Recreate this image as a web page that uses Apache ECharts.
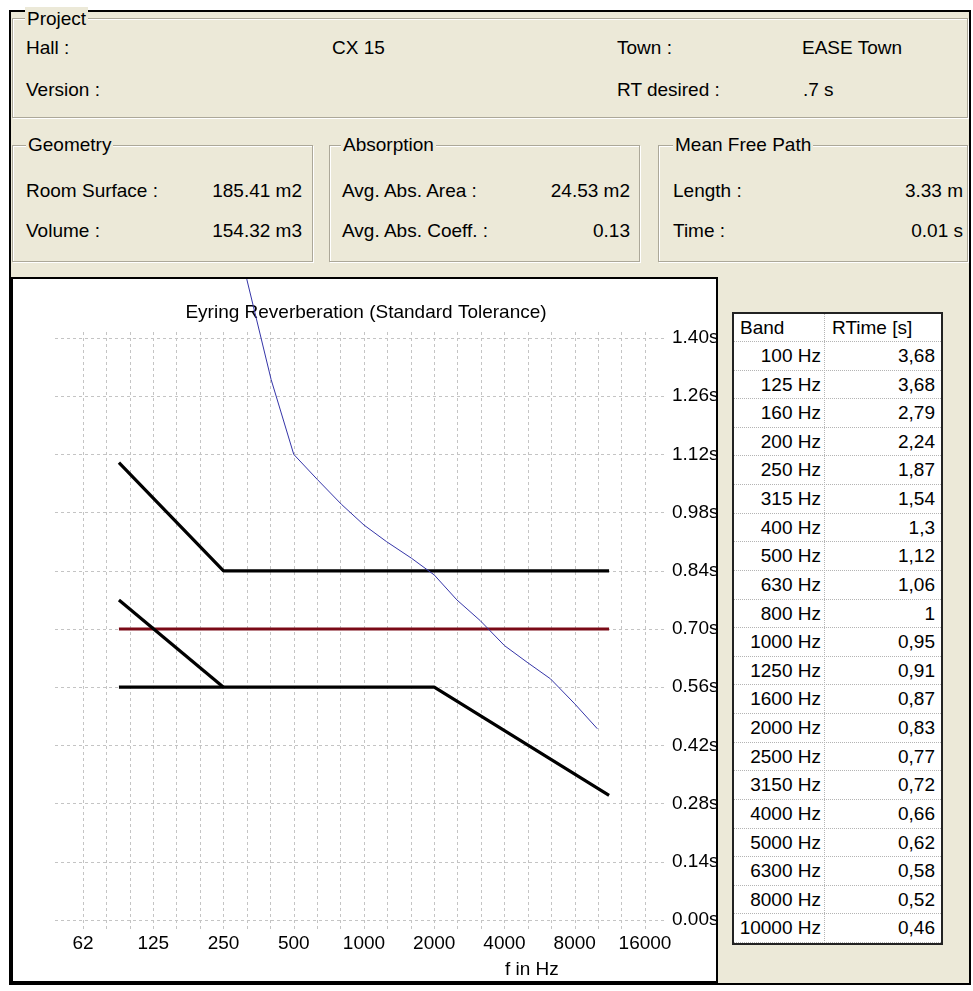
<!DOCTYPE html>
<html>
<head>
<meta charset="utf-8">
<script src="https://cdn.jsdelivr.net/npm/echarts@6/dist/echarts.min.js"></script>
<style>
html,body{margin:0;padding:0;background:#fff;width:973px;height:991px;overflow:hidden;}
#frame{position:absolute;left:9px;top:10px;width:962px;height:975px;background:#ece9d8;border:2px solid #000;box-sizing:border-box;}
.t{position:absolute;white-space:nowrap;line-height:24px;height:24px;color:#000;}
.box{position:absolute;border:1px solid #aca899;box-shadow:1px 1px 0 #fff, inset 1px 1px 0 #fff;box-sizing:border-box;}
.lg{position:absolute;white-space:nowrap;line-height:24px;height:24px;background:#ece9d8;padding:0 2px;color:#000;}
#panel{position:absolute;left:11px;top:277px;width:707px;height:706px;background:#fff;border:2px solid #000;box-sizing:border-box;}
#chart{position:absolute;left:0;top:0;width:703px;height:702px;}
#tbl{position:absolute;left:732px;top:312px;width:211px;height:633px;background:#fff;border:2px solid #222;box-sizing:border-box;overflow:hidden;}
.cell{position:absolute;white-space:nowrap;color:#000;}
.hl{position:absolute;left:0;width:207px;height:0;border-top:1px dotted #b4b4b4;}
.vl{position:absolute;top:0;width:0;height:629px;border-left:1px dotted #b4b4b4;}
</style>
</head>
<body>
<div id="frame"></div>
<div class="box" style="left:12px;top:18px;width:956px;height:100px;"></div>
<div class="box" style="left:12px;top:145px;width:301px;height:117px;"></div>
<div class="box" style="left:329px;top:145px;width:311px;height:117px;"></div>
<div class="box" style="left:658px;top:145px;width:310px;height:117px;"></div>
<div id="texts"></div>
<div id="panel"><div id="chart"></div></div>
<div id="tbl"></div>
<script>
// ---------- data ----------
const bands = [100,125,160,200,250,315,400,500,630,800,1000,1250,1600,2000,2500,3150,4000,5000,6300,8000,10000];
const rtValues = [3.68,3.68,2.79,2.24,1.87,1.54,1.3,1.12,1.06,1,0.95,0.91,0.87,0.83,0.77,0.72,0.66,0.62,0.58,0.52,0.46];
const desiredRT = 0.7;
const desiredFreq = [89.1, 11225];
const upperTolFreq = [89.1, 250, 11225];
const upperTolValues = [1.10, 0.84, 0.84];
const lowerTolFreq = [89.1, 2000, 11225];
const lowerTolValues = [0.56, 0.56, 0.30];
const lowerLeftFreq = [89.1, 250];
const lowerLeftValues = [0.77, 0.56];
const freqTickLabels = ['62','125','250','500','1000','2000','4000','8000','16000'];
const yTickMin = 0, yTickMax = 1.40, yTickStep = 0.14;

// ---------- font ----------
function hasFont(name){
  const c = document.createElement('canvas').getContext('2d');
  c.font = '40px monospace';
  const w1 = c.measureText('abcdefghijklmWQ').width;
  c.font = '40px "' + name + '", monospace';
  const w2 = c.measureText('abcdefghijklmWQ').width;
  return Math.abs(w1 - w2) > 0.5;
}
const narrow = hasFont('Liberation Sans Narrow');
const FF = narrow ? "'Liberation Sans Narrow', 'Liberation Sans', Arial, sans-serif" : "'Liberation Sans', Arial, sans-serif";
const FS = narrow ? 23 : 19;
document.body.style.fontFamily = FF;
document.body.style.fontSize = FS + 'px';

// ---------- info panel texts ----------
const texts = [
  ['lg','Project',25,19],
  ['t','Hall :',26,48],['t','CX 15',332,48],['t','Town :',617,48],['t','EASE Town',802,48],
  ['t','Version :',26,90],['t','RT desired :',617,90],['t','.7 s',803,90],
  ['lg','Geometry',26,145],['lg','Absorption',341,145],['lg','Mean Free Path',673,145],
  ['t','Room Surface :',26,191],['r','185.41 m2',302,191],
  ['t','Volume :',26,231],['r','154.32 m3',302,231],
  ['t','Avg. Abs. Area :',342,191],['r','24.53 m2',630,191],
  ['t','Avg. Abs. Coeff. :',342,231],['r','0.13',630,231],
  ['t','Length :',673,191],['r','3.33 m',963,191],
  ['t','Time :',673,231],['r','0.01 s',963,231]
];
const tc = document.getElementById('texts');
texts.forEach(([k,s,x,cy])=>{
  const d = document.createElement('div');
  d.className = k === 'lg' ? 'lg' : 't';
  d.textContent = s;
  d.style.top = (cy - 12) + 'px';
  if (k === 'r') d.style.right = (973 - x) + 'px'; else d.style.left = x + 'px';
  tc.appendChild(d);
});

// ---------- table ----------
const tbl = document.getElementById('tbl');
const headH = 28, rowH = (629 - headH) / bands.length;
function cell(txt, top, h, left, right){
  const d = document.createElement('div');
  d.className = 'cell';
  d.textContent = txt;
  d.style.top = top + 'px'; d.style.height = h + 'px'; d.style.lineHeight = h + 'px';
  if (left != null) d.style.left = left + 'px'; else d.style.right = right + 'px';
  tbl.appendChild(d);
}
cell('Band', 0, headH, 6, null);
cell('RTime [s]', 0, headH, 98, null);
let hl = document.createElement('div'); hl.className='hl'; hl.style.top = (headH-1)+'px'; tbl.appendChild(hl);
bands.forEach((f,i)=>{
  const top = headH + i*rowH;
  cell(f + ' Hz', top, rowH, null, 207 - 87);
  cell(String(rtValues[i]).replace('.', ','), top, rowH, null, 6);
  const l = document.createElement('div'); l.className='hl'; l.style.top = (top + rowH - 1) + 'px'; tbl.appendChild(l);
});
const vl = document.createElement('div'); vl.className='vl'; vl.style.left='90px'; tbl.appendChild(vl);

// ---------- chart ----------
const ox = 13, oy = 279; // page offset of chart canvas
const xPix0 = 83, xPix1 = 645;          // 62.5 Hz .. 16000 Hz
const yPix0 = 920, yPix140 = 338;       // 0.00 s .. 1.40 s
const tx = f => 3 * Math.log2(f / 1000); // third-octave position relative to 1 kHz
const pxPerVal = (yPix0 - yPix140) / yTickMax;
const yMaxData = (yPix0 - oy) / pxPerVal;

const font = {fontFamily: FF, fontSize: FS, color: '#000'};
const gridLine = {show: true, lineStyle: {color: '#c4c4c4', width: 1, type: [3, 3]}};
const pairs = (fs, vs) => fs.map((f, i) => [tx(f), vs[i]]);

const option = {
  animation: false,
  backgroundColor: '#fff',
  grid: [
    {left: xPix0 - ox, top: 332 - oy, width: xPix1 - xPix0, height: 930 - 332, containLabel: false, outerBoundsMode: 'none', show: false},
    {left: 55 - ox, top: yPix140 - oy, width: 664 - 55, height: yPix0 - yPix140, containLabel: false, outerBoundsMode: 'none', show: false},
    {left: xPix0 - ox, top: 0, width: xPix1 - xPix0, height: yPix0 - oy, containLabel: false, outerBoundsMode: 'none', show: false}
  ],
  xAxis: [
    {gridIndex: 0, type: 'value', min: -12, max: 12, interval: 1,
     axisLine: {show: false}, axisTick: {show: false}, splitLine: gridLine,
     axisLabel: Object.assign({margin: 4, hideOverlap: false, showMinLabel: true, showMaxLabel: true,
       formatter: v => { const r = Math.round(v); return r % 3 === 0 ? freqTickLabels[(r + 12) / 3] : ''; }}, font)},
    {gridIndex: 1, type: 'value', min: 0, max: 1, show: false},
    {gridIndex: 2, type: 'value', min: -12, max: 12, show: false}
  ],
  yAxis: [
    {gridIndex: 0, type: 'value', min: 0, max: 1, show: false},
    {gridIndex: 1, type: 'value', min: yTickMin, max: yTickMax, interval: yTickStep, position: 'right',
     axisLine: {show: false}, axisTick: {show: false}, splitLine: gridLine,
     axisLabel: Object.assign({margin: 8, hideOverlap: false, showMinLabel: true, showMaxLabel: true,
       formatter: v => v.toFixed(2) + 's'}, font)},
    {gridIndex: 2, type: 'value', min: 0, max: yMaxData, show: false}
  ],
  graphic: [
    {type: 'text', x: 366 - ox, y: 313 - oy, silent: true,
     style: {text: 'Eyring Reverberation (Standard Tolerance)', fill: '#000', font: FS + 'px ' + FF, align: 'center', verticalAlign: 'middle'}},
    {type: 'text', x: 505 - ox, y: 970 - oy, silent: true,
     style: {text: 'f in Hz', fill: '#000', font: FS + 'px ' + FF, align: 'left', verticalAlign: 'middle'}}
  ],
  series: [
    {type: 'line', xAxisIndex: 2, yAxisIndex: 2, data: pairs(desiredFreq, desiredFreq.map(() => desiredRT)),
     symbol: 'none', lineStyle: {color: '#7a0a16', width: 3}, z: 2},
    {type: 'line', xAxisIndex: 2, yAxisIndex: 2, data: pairs(upperTolFreq, upperTolValues),
     symbol: 'none', lineStyle: {color: '#000', width: 3.2}, z: 3},
    {type: 'line', xAxisIndex: 2, yAxisIndex: 2, data: pairs(lowerTolFreq, lowerTolValues),
     symbol: 'none', lineStyle: {color: '#000', width: 3.2}, z: 3},
    {type: 'line', xAxisIndex: 2, yAxisIndex: 2, data: pairs(lowerLeftFreq, lowerLeftValues),
     symbol: 'none', lineStyle: {color: '#000', width: 3.2}, z: 3},
    {type: 'line', xAxisIndex: 2, yAxisIndex: 2, data: pairs(bands, rtValues), clip: true,
     symbol: 'none', lineStyle: {color: '#3535a8', width: 1}, z: 4}
  ]
};
const chart = echarts.init(document.getElementById('chart'), null, {renderer: 'canvas'});
chart.setOption(option);
</script>
</body>
</html>
